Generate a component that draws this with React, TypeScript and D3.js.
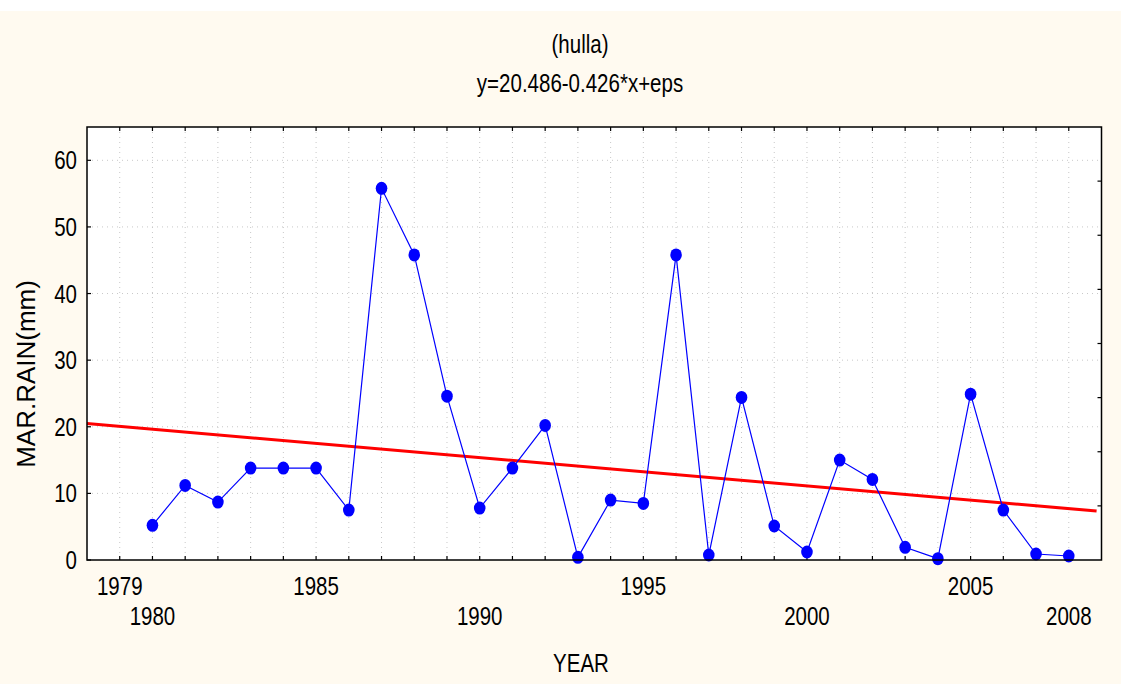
import React, { useEffect, useRef } from 'react'
import * as d3 from 'd3'

const years = [1980, 1981, 1982, 1983, 1984, 1985, 1986, 1987, 1988, 1989, 1990, 1991, 1992, 1993, 1994,
  1995, 1996, 1997, 1998, 1999, 2000, 2001, 2002, 2003, 2004, 2005, 2006, 2007, 2008]
const rain = [5.2, 11.2, 8.7, 13.8, 13.8, 13.8, 7.5, 55.8, 45.8, 24.6, 7.8, 13.8, 20.2, 0.4, 9.0,
  8.5, 45.8, 0.75, 24.4, 5.1, 1.2, 15.0, 12.1, 1.9, 0.2, 24.9, 7.5, 0.9, 0.6]

const yTicks = [0, 10, 20, 30, 40, 50, 60]
const xLabelsRow1 = [1979, 1985, 1995, 2005]
const xLabelsRow2 = [1980, 1990, 2000, 2008]

// regression y = a + b * (year - 1978)
const fitA = 20.486
const fitB = -0.426
const fitOrigin = 1978
const fitRange = [1978, 2008.85]

const W = 1121
const H = 684
const FONT = '"Liberation Sans", Arial, sans-serif'
const NARROW = 0.82

function Chart () {
  const ref = useRef<SVGSVGElement>(null)

  useEffect(() => {
    const svg = d3.select(ref.current)
    svg.selectAll('*').remove()

    const left = 87
    const right = 1101.5
    const top = 127
    const bottom = 560

    const x = d3.scaleLinear().domain([1978, 2009]).range([left, right])
    const y = d3.scaleLinear().domain([0, 65]).range([bottom, top])
    const yRight = d3.scaleLinear().domain([0, 8]).range([bottom, top])

    svg.append('rect').attr('width', W).attr('height', H).attr('fill', '#ffffff')
    svg.append('rect').attr('y', 11).attr('width', W).attr('height', H - 11).attr('fill', '#fffaf0')
    svg.append('rect')
      .attr('x', left).attr('y', top)
      .attr('width', right - left).attr('height', bottom - top)
      .attr('fill', '#ffffff')

    const xTickVals = d3.range(1979, 2009)

    // dotted grid
    const grid = svg.append('g').attr('stroke', '#c8c8c8').attr('stroke-width', 1).attr('stroke-dasharray', '1,4')
    grid.selectAll('.vg').data(xTickVals).enter().append('line')
      .attr('x1', d => x(d)).attr('x2', d => x(d))
      .attr('y1', top).attr('y2', bottom)
    grid.selectAll('.hg').data(yTicks.slice(1)).enter().append('line')
      .attr('x1', left).attr('x2', right)
      .attr('y1', d => y(d)).attr('y2', d => y(d))

    // ticks, all inward
    const ticks = svg.append('g').attr('stroke', '#000').attr('stroke-width', 1.2)
    ticks.selectAll('.tb').data(xTickVals).enter().append('line')
      .attr('x1', d => x(d)).attr('x2', d => x(d)).attr('y1', bottom).attr('y2', bottom - 4)
    ticks.selectAll('.tt').data(xTickVals).enter().append('line')
      .attr('x1', d => x(d)).attr('x2', d => x(d)).attr('y1', top).attr('y2', top + 4)
    ticks.selectAll('.tl').data(yTicks).enter().append('line')
      .attr('x1', left).attr('x2', left + 4).attr('y1', d => y(d)).attr('y2', d => y(d))
    ticks.selectAll('.tr').data(d3.range(1, 8)).enter().append('line')
      .attr('x1', right).attr('x2', right - 4).attr('y1', d => yRight(d)).attr('y2', d => yRight(d))

    // regression line
    svg.append('line')
      .attr('x1', x(fitRange[0])).attr('x2', x(fitRange[1]))
      .attr('y1', y(fitA + fitB * (fitRange[0] - fitOrigin)))
      .attr('y2', y(fitA + fitB * (fitRange[1] - fitOrigin)))
      .attr('stroke', '#ff0000').attr('stroke-width', 3)

    const pts = years.map((yr, i) => [yr, rain[i]] as [number, number])
    const line = d3.line<[number, number]>().x(d => x(d[0])).y(d => y(d[1]))
    svg.append('path').attr('d', line(pts)).attr('fill', 'none')
      .attr('stroke', '#0000ff').attr('stroke-width', 1.2)

    svg.append('g').selectAll('ellipse').data(pts).enter().append('ellipse')
      .attr('cx', d => x(d[0])).attr('cy', d => y(d[1]))
      .attr('rx', 5.8).attr('ry', 6.5)
      .attr('fill', '#0000ff')

    // frame
    svg.append('rect')
      .attr('x', left).attr('y', top)
      .attr('width', right - left).attr('height', bottom - top)
      .attr('fill', 'none').attr('stroke', '#000').attr('stroke-width', 1.5)

    const text = svg.append('g').attr('font-family', FONT).attr('font-size', 25).attr('fill', '#000')
    const put = (tx: number, ty: number, s: string | number, anchor: string, rot = 0, sx = NARROW) =>
      text.append('text')
        .attr('transform', `translate(${tx},${ty}) rotate(${rot}) scale(${sx},1)`)
        .attr('text-anchor', anchor)
        .text(s)

    yTicks.forEach(d => put(77, y(d) + 9, d, 'end'))
    xLabelsRow1.forEach(d => put(x(d), 595, d, 'middle'))
    xLabelsRow2.forEach(d => put(x(d), 625, d, 'middle'))

    put(581, 672, 'YEAR', 'middle')
    put(35, 374, 'MAR.RAIN(mm)', 'middle', -90, 1.04)
    put(580, 53, '(hulla)', 'middle')
    put(580, 92, 'y=20.486-0.426*x+eps', 'middle')
  }, [])

  return <svg ref={ref} width={W} height={H} viewBox={`0 0 ${W} ${H}`} style={{ display: 'block' }} />
}

export default function App () {
  return (
    <div style={{ position: 'absolute', left: 0, top: 0 }}>
      <Chart />
    </div>
  )
}
